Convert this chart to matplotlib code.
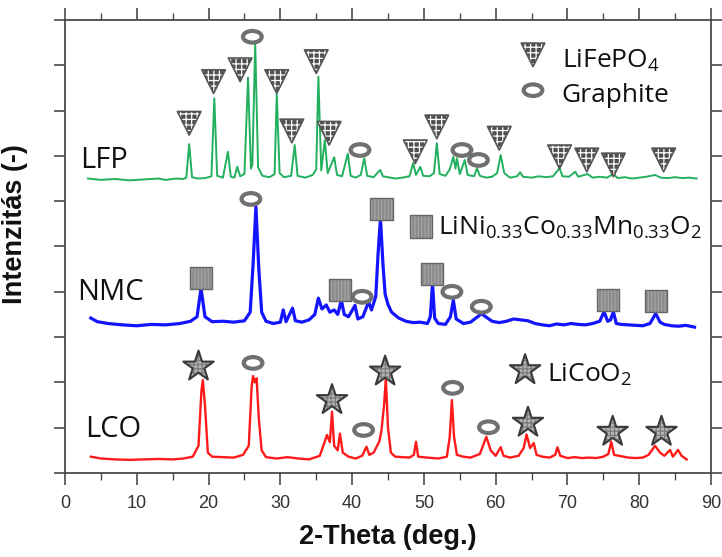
import matplotlib
matplotlib.use("Agg")
import matplotlib.pyplot as plt
import matplotlib.path as mpath
import numpy as np

# ---------------- data ----------------
lfp_x = [3.2, 5, 7, 9, 11, 13, 14, 15.5, 16.5, 16.9, 17.3, 17.7, 18.5, 19.5, 20.4, 20.8, 21.2, 22.0, 22.7, 23.1,
         23.6, 24.0, 24.4, 25.0, 25.5, 25.9, 26.1, 26.5, 26.9, 27.5, 28.5, 29.2, 29.5, 29.9, 30.5, 31.5, 32.0, 32.4,
         33.5, 34.5, 35.0, 35.3, 35.7, 36.2, 36.6, 37.5, 37.9, 38.6, 39.4, 39.8, 40.5, 41.2, 41.7, 42.1, 43.0, 43.9,
         44.3, 45.0, 46.0, 47.0, 48.0, 48.5, 48.9, 49.5, 49.9, 50.8, 51.4, 51.8, 52.2, 53.0, 53.6, 54.1, 54.4, 54.6,
         55.0, 55.7, 56.1, 57.0, 57.4, 57.8, 58.7, 59.5, 60.2, 60.7, 61.2, 62.0, 63.0, 63.4, 63.8, 65.0, 66.0, 67.0,
         68.0, 68.9, 69.3, 70.2, 71.1, 71.5, 72.8, 73.5, 74.5, 75.5, 76.4, 77.0, 78.0, 79.0, 80.0, 81.0, 82.2, 83.0,
         84.0, 85.0, 86.0, 87.0, 88.0]
lfp_y = [6.50, 6.47, 6.49, 6.46, 6.48, 6.50, 6.47, 6.50, 6.49, 6.52, 7.26, 6.53, 6.50, 6.51, 6.55, 8.27, 6.56, 6.52, 7.09, 6.54,
         6.52, 6.76, 6.55, 6.60, 8.73, 6.72, 6.80, 9.49, 6.75, 6.56, 6.53, 6.60, 8.36, 6.62, 6.53, 6.56, 7.24, 6.56,
         6.52, 6.58, 6.70, 8.75, 6.68, 7.35, 6.62, 6.97, 6.58, 6.55, 7.05, 6.56, 6.52, 6.58, 6.95, 6.56, 6.53, 6.69,
         6.55, 6.53, 6.50, 6.52, 6.55, 6.84, 6.58, 6.76, 6.56, 6.55, 6.62, 7.28, 6.60, 6.56, 6.70, 6.98, 6.72, 6.95,
         6.60, 6.91, 6.58, 6.55, 6.73, 6.56, 6.52, 6.54, 6.62, 7.02, 6.62, 6.52, 6.55, 6.64, 6.54, 6.52, 6.55, 6.53,
         6.55, 6.73, 6.55, 6.54, 6.65, 6.54, 6.60, 6.52, 6.54, 6.52, 6.60, 6.51, 6.53, 6.50, 6.52, 6.54, 6.58, 6.52,
         6.51, 6.53, 6.51, 6.52, 6.50]

nmc_x = [3.6, 4.5, 6, 8, 10, 12, 14, 16, 17.5, 18.4, 18.95, 19.5, 20.5, 22, 23.5, 25, 25.8, 26.2, 26.6, 27.0,
         27.4, 28, 29, 30.0, 30.4, 30.8, 31.7, 32.1, 33, 34, 34.8, 35.3, 35.8, 36.4, 36.9, 37.5, 38.0, 38.5, 38.9,
         39.5, 40.4, 40.8, 41.5, 42.3, 42.7, 43.3, 43.6, 43.95, 44.3, 44.6, 45.0, 45.5, 46.5, 47.5, 48.5, 49.5, 50.5,
         50.9, 51.2, 51.5, 52.0, 53.0, 53.7, 54.1, 54.5, 55.5, 56.5, 57.5, 58.0, 58.6, 59.5, 60.5, 61.5, 62.5, 63.5,
         64.5, 65.5, 66.5, 67.5, 68.5, 69.5, 70.5, 71.5, 72.5, 73.5, 74.5, 75.1, 75.6, 76.0, 76.4, 76.8, 77.5, 78.5,
         79.5, 80.5, 81.5, 82.3, 82.9, 83.5, 84.5, 85.5, 86.5, 87.7]
nmc_y = [3.42, 3.34, 3.30, 3.27, 3.25, 3.28, 3.27, 3.30, 3.35, 3.45, 4.08, 3.45, 3.34, 3.35, 3.33, 3.36, 3.55, 4.60, 5.88, 4.50,
         3.55, 3.35, 3.30, 3.33, 3.60, 3.34, 3.64, 3.36, 3.33, 3.38, 3.50, 3.86, 3.62, 3.71, 3.55, 3.60, 3.50, 3.82, 3.50,
         3.45, 3.70, 3.40, 3.45, 3.78, 3.60, 3.90, 4.80, 5.62, 4.60, 3.95, 3.72, 3.55, 3.42, 3.35, 3.32, 3.33, 3.30,
         3.45, 4.19, 3.42, 3.30, 3.28, 3.45, 3.82, 3.40, 3.30, 3.33, 3.45, 3.52, 3.45, 3.35, 3.32, 3.35, 3.40, 3.38,
         3.36, 3.30, 3.27, 3.25, 3.29, 3.27, 3.30, 3.28, 3.27, 3.30, 3.35, 3.56, 3.35, 3.38, 3.56, 3.30, 3.28, 3.27,
         3.26, 3.25, 3.30, 3.52, 3.33, 3.28, 3.25, 3.24, 3.26, 3.22]

lco_x = [3.6, 5, 7, 9, 11, 13, 15, 16.5, 17.8, 18.6, 19.0, 19.2, 19.5, 19.9, 20.5, 22, 23.5, 24.8, 25.6, 26.0,
         26.2, 26.45, 26.7, 27.0, 27.4, 28, 29.5, 31, 32.5, 34, 35.5, 36.2, 36.5, 36.9, 37.2, 37.5, 38.0, 38.3, 38.7,
         39.5, 40.5, 41.4, 42.0, 42.4, 43.0, 43.8, 44.1, 44.45, 44.7, 45.0, 45.4, 46, 47, 48, 48.6, 48.9, 49.2, 50.5,
         52, 53.2, 53.6, 53.9, 54.2, 54.6, 55.5, 56.5, 57.8, 58.7, 59.3, 60.0, 60.7, 61.1, 62.0, 63.2, 63.9, 64.3,
         64.8, 65.3, 65.7, 66.5, 67.5, 68.3, 68.6, 69.0, 70, 71, 72, 73, 74, 75, 75.7, 76.1, 76.5, 77.5, 78.5, 79.5,
         80.5, 81.3, 82.2, 82.9, 83.5, 84.3, 84.7, 85.4, 85.9, 86.6]
lco_y = [0.36, 0.32, 0.30, 0.29, 0.30, 0.31, 0.30, 0.32, 0.36, 0.60, 1.80, 2.05, 1.50, 0.45, 0.36, 0.35, 0.34, 0.40, 0.60, 1.90,
         2.14, 2.00, 2.09, 1.20, 0.50, 0.35, 0.32, 0.35, 0.32, 0.30, 0.38, 0.70, 0.84, 0.68, 1.35, 0.60, 0.50, 0.87, 0.45,
         0.36, 0.32, 0.38, 0.58, 0.40, 0.45, 0.70, 0.95, 1.50, 2.09, 1.00, 0.45, 0.36, 0.35, 0.34, 0.40, 0.69, 0.36, 0.34,
         0.32, 0.36, 0.80, 1.61, 0.80, 0.40, 0.36, 0.34, 0.42, 0.80, 0.50, 0.38, 0.57, 0.38, 0.34, 0.38, 0.55, 0.85,
         0.55, 0.66, 0.40, 0.36, 0.34, 0.40, 0.57, 0.38, 0.33, 0.35, 0.33, 0.34, 0.33, 0.36, 0.42, 0.69, 0.40, 0.37, 0.34, 0.33,
         0.34, 0.40, 0.60, 0.45, 0.38, 0.51, 0.36, 0.51, 0.38, 0.30]

# phase markers
lfp_tri_x = [17.3, 20.7, 24.4, 29.5, 31.6, 35.0, 36.8, 48.8, 51.8, 60.5, 68.9, 72.7, 76.4, 83.4]
lfp_tri_y = [7.72, 8.64, 8.90, 8.64, 7.55, 9.08, 7.50, 7.09, 7.64, 7.39, 6.98, 6.91, 6.80, 6.91]
lfp_gr_x = [26.1, 41.1, 55.3, 57.6]
lfp_gr_y = [9.63, 7.13, 7.13, 6.91]
nmc_sq_x = [19.0, 38.3, 44.1, 51.1, 75.6, 82.3]
nmc_sq_y = [4.31, 4.04, 5.83, 4.39, 3.82, 3.80]
nmc_gr_x = [25.9, 41.4, 53.9, 58.0]
nmc_gr_y = [6.05, 3.89, 4.00, 3.67]
lco_st_x = [18.6, 37.2, 44.6, 64.5, 76.3, 83.1]
lco_st_y = [2.35, 1.61, 2.24, 1.11, 0.91, 0.91]
lco_gr_x = [26.2, 41.6, 54.0, 59.0]
lco_gr_y = [2.43, 0.95, 1.88, 1.01]

sample_labels = ["LFP", "NMC", "LCO"]
phase_labels = ["LiFePO$_4$", "Graphite", "LiNi$_{0.33}$Co$_{0.33}$Mn$_{0.33}$O$_2$", "LiCoO$_2$"]
xticks = [0, 10, 20, 30, 40, 50, 60, 70, 80, 90]
xlabel = "2-Theta (deg.)"
ylabel = "Intenzitás (-)"

# ---------------- style ----------------
plt.rcParams['mathtext.default'] = 'regular'
plt.rcParams['hatch.linewidth'] = 0.9
ann_font = "Open Sans"
axis_font = "Liberation Sans"

fig = plt.figure(figsize=(7.22, 5.57), dpi=100)
ax = fig.add_axes([65/722, 1-473/557, 646/722, 453/557])

ax.plot(lfp_x, lfp_y, color='#22b05e', lw=1.4, zorder=3)
ax.plot(nmc_x, nmc_y, color='#1414ff', lw=2.3, zorder=3)
ax.plot(lco_x, lco_y, color='#ff1a1a', lw=1.7, zorder=3)

ell = mpath.Path.unit_circle()
ell_marker = mpath.Path(ell.vertices * np.array([1.0, 0.62]), ell.codes)


def hatched(xs, ys, marker, size, face, hatch, hcol, edge, lw):
    ax.scatter(xs, ys, s=size**2, marker=marker, facecolor=face, edgecolor=hcol,
               hatch=hatch, linewidths=0, zorder=5, clip_on=False)
    ax.scatter(xs, ys, s=size**2, marker=marker, facecolor='none', edgecolor=edge,
               linewidths=lw, zorder=6, clip_on=False)


def rings(xs, ys):
    ax.scatter(xs, ys, s=13.5**2, marker=ell_marker, facecolor='none', edgecolor='#707070',
               linewidths=3.0, zorder=6, clip_on=False)


tri_x = lfp_tri_x + [65.2]
tri_y = lfp_tri_y + [9.23]
hatched(tri_x, tri_y, 'v', 17, '#505050', '+++', 'white', '#555555', 1.2)
rings(lfp_gr_x + nmc_gr_x + lco_gr_x + [65.2], lfp_gr_y + nmc_gr_y + lco_gr_y + [8.45])
hatched(nmc_sq_x + [49.6], nmc_sq_y + [5.44], 's', 16, '#8a8a8a', '|||||', '#a5a5a5', '#666666', 1.0)
hatched(lco_st_x + [64.1], lco_st_y + [2.27], '*', 23, '#b4b4b4', '++++', '#7c7c7c', '#3a3a3a', 1.5)

# sample labels
ax.text(2.09, 6.73, sample_labels[0], fontsize=21, family=ann_font, color='#111111', va='baseline')
ax.text(1.67, 3.82, sample_labels[1], fontsize=21, family=ann_font, color='#111111', va='baseline')
ax.text(2.79, 0.79, sample_labels[2], fontsize=21, family=ann_font, color='#111111', va='baseline')

# phase legend texts
ax.text(69.2, 8.94, phase_labels[0], fontsize=19, family=ann_font, color='#111111', va='baseline')
ax.text(69.2, 8.19, phase_labels[1], fontsize=19, family=ann_font, color='#111111', va='baseline')
ax.text(52.0, 5.25, phase_labels[2], fontsize=19, family=ann_font, color='#111111', va='baseline')
ax.text(67.1, 2.01, phase_labels[3], fontsize=19, family=ann_font, color='#111111', va='baseline')

# axes
ax.set_xlim(0, 90)
ax.set_ylim(0, 10)
ax.set_xticks(xticks)
ax.set_xticks([5, 15, 25, 35, 45, 55, 65, 75, 85], minor=True)
ax.set_yticks(range(0, 11))
ax.set_yticklabels([])
for s in ax.spines.values():
    s.set_color('#4a4a4a')
    s.set_linewidth(1.3)
ax.tick_params(axis='x', which='major', direction='out', length=8.5, width=1.2, color='#4a4a4a',
               top=True, bottom=True, labelsize=13, labelcolor='#333333', pad=7)
ax.tick_params(axis='x', which='minor', direction='out', length=5, width=1.0, color='#4a4a4a',
               top=True, bottom=True)
ax.tick_params(axis='y', which='major', direction='out', length=8, width=1.2, color='#4a4a4a',
               left=True, right=True)
for lab in ax.get_xticklabels():
    lab.set_family(axis_font)

ax.set_xlabel(xlabel, fontsize=19.5, fontweight='bold', family=axis_font, color='#111111')
ax.xaxis.set_label_coords(0.5, -0.112)
ax.set_ylabel(ylabel, fontsize=19.5, fontweight='bold', family=axis_font, color='#111111')
ax.yaxis.set_label_coords(-0.058, 0.55)

fig.savefig("out.png", dpi=100)
